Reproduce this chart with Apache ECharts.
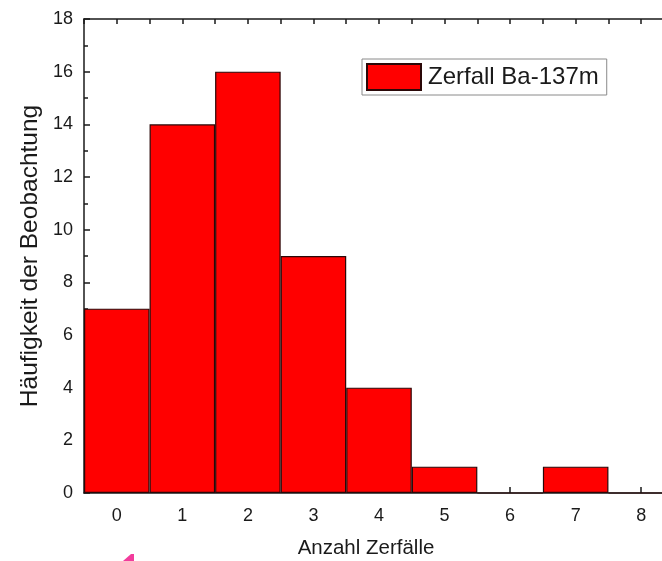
<!DOCTYPE html>
<html>
<head>
<meta charset="utf-8">
<script src="https://cdn.jsdelivr.net/npm/echarts@6/dist/echarts.min.js"></script>
<style>
  html, body { margin: 0; padding: 0; background: #fff; }
  #chart { width: 662px; height: 561px; }
</style>
</head>
<body>
<div id="chart"></div>
<script>
// Histogram of observed decay counts per interval
const categories = ['0', '1', '2', '3', '4', '5', '6', '7', '8'];
const counts = [7, 14, 16, 9, 4, 1, 0, 1, 0];
const seriesName = 'Zerfall Ba-137m';
const xTitle = 'Anzahl Zerfälle';
const yTitle = 'Häufigkeit der Beobachtung';
// half-step slots used only for the tick marks on the top frame edge
const halfSlots = [];
for (let i = 0; i < categories.length * 2; i++) halfSlots.push(String(i));

const FONT = '"Liberation Sans", Arial, sans-serif';
const INK = '#1a1a1a';

const chart = echarts.init(document.getElementById('chart'), null, { renderer: 'canvas' });

chart.setOption({
  animation: false,
  backgroundColor: '#ffffff',
  textStyle: { fontFamily: FONT },
  // the frame runs on past the right edge of the canvas
  grid: { left: 84, top: 19, width: 590, height: 474, containLabel: false, outerBoundsMode: 'none' },
  legend: {
    data: [seriesName],
    left: 362,
    top: 59,
    icon: 'rect',
    itemWidth: 54,
    itemHeight: 26,
    itemGap: 0,
    padding: [4, 8, 4, 4],
    borderColor: '#8a8a8a',
    borderWidth: 1,
    textStyle: { fontFamily: FONT, fontSize: 24, lineHeight: 26, color: INK, padding: [0, 0, 0, 2] }
  },
  xAxis: [
    {
      type: 'category',
      data: categories,
      position: 'bottom',
      boundaryGap: true,
      axisLine: { show: true, lineStyle: { color: INK, width: 1.5 } },
      axisTick: { show: true, inside: true, alignWithLabel: true, length: 6, lineStyle: { color: INK, width: 1.5 } },
      axisLabel: { fontFamily: FONT, fontSize: 18, color: INK, margin: 14 },
      splitLine: { show: false },
      name: xTitle,
      nameLocation: 'middle',
      nameGap: 45,
      nameTextStyle: { fontFamily: FONT, fontSize: 20.5, color: INK, padding: [0, 26, 0, 0] }
    },
    {
      type: 'category',
      data: halfSlots,
      position: 'top',
      boundaryGap: true,
      axisLine: { show: true, lineStyle: { color: INK, width: 1.5 } },
      axisTick: { show: true, inside: true, length: 5, lineStyle: { color: INK, width: 1.5 } },
      axisLabel: { show: false },
      splitLine: { show: false }
    }
  ],
  yAxis: {
    type: 'value',
    min: 0,
    max: 18,
    interval: 2,
    axisLine: { show: true, lineStyle: { color: INK, width: 1.5 } },
    axisTick: { show: true, inside: true, length: 6, lineStyle: { color: INK, width: 1.5 } },
    minorTick: { show: true, splitNumber: 2, length: 4, lineStyle: { color: INK, width: 1.5 } },
    axisLabel: { fontFamily: FONT, fontSize: 18, color: INK, margin: 11 },
    splitLine: { show: false },
    name: yTitle,
    nameLocation: 'middle',
    nameGap: 41,
    nameMoveOverlap: false,
    nameRotate: 90,
    nameTextStyle: { fontFamily: FONT, fontSize: 24.5, color: INK, padding: [0, 0, 0, 0] }
  },
  series: [
    {
      name: seriesName,
      type: 'bar',
      xAxisIndex: 0,
      data: counts,
      barCategoryGap: '0%',
      barGap: '0%',
      itemStyle: { color: '#ff0000', borderColor: '#2a0808', borderWidth: 1.2 }
    }
  ],
  graphic: [
    {
      // small magenta pen mark at the lower edge
      type: 'polygon',
      shape: { points: [[123, 561], [131, 554], [134, 554], [134, 561]] },
      style: { fill: '#f23c9c' },
      silent: true
    }
  ]
});
</script>
</body>
</html>
